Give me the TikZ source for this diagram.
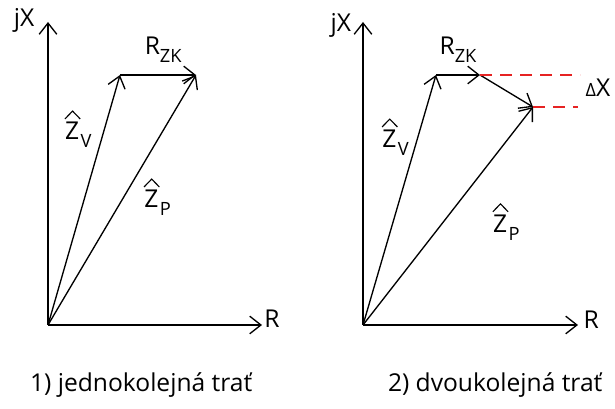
\documentclass[tikz,border=0pt]{standalone}
\usepackage{amsmath}
\usepackage{fontspec}
\setmainfont{Open Sans}
\usetikzlibrary{arrows.meta}
\definecolor{deltared}{RGB}{230, 35, 35}
\newcommand{\lsub}[1]{\raisebox{-0.32em}{\fontsize{13}{14}\selectfont #1}}
\newcommand{\zhat}[1]{\tikz[baseline=0pt, x=1em, y=1em]{%
    \node[inner sep=0pt, anchor=base west] at (0,0) {Z};
    \draw[line width=0.8pt, line join=miter] (0.0,0.84) -- (0.31,1.16) -- (0.62,0.84);}\lsub{#1}}

\begin{document}
\begin{tikzpicture}[scale=1.0, >={Straight Barb[length=2.8mm, width=4.4mm]}, line width=0.95pt,
    lbl/.style={font=\fontsize{17.5}{19}\selectfont, inner sep=0pt},
    deltaline/.style={deltared, line width=0.95pt, dash pattern=on 3mm off 2mm}]

  \useasboundingbox (0,0) rectangle (15.375,10.225);

  % Left: single track
  \coordinate (o1) at (1.2,2.1);
  \coordinate (y1) at (1.2,9.675);
  \coordinate (x1) at (6.55,2.1);
  \coordinate (v1) at (3.0,8.35);
  \coordinate (p1) at (4.9,8.35);

  \draw[->] (o1) -- (y1);
  \draw[->] (o1) -- (x1);
  \draw[->] (o1) -- (v1);
  \draw[->] (v1) -- (p1);
  \draw[->] (o1) -- (p1);

  \node[lbl] (jx1) at (0.6,9.72) {jX};
  \node[lbl] (r1) at (6.8,2.25) {R};
  \node[lbl] (rzk1) at (4.08,8.98) {R\lsub{ZK}};
  \node[lbl] (zv1) at (1.95,7.0) {\zhat{V}};
  \node[lbl] (zp1) at (3.93,5.3) {\zhat{P}};

  % Right: double track
  \coordinate (o2) at (9.075,2.1);
  \coordinate (y2) at (9.075,9.675);
  \coordinate (x2) at (14.45,2.1);
  \coordinate (v2) at (10.9,8.35);
  \coordinate (k2) at (12.0,8.35);
  \coordinate (p2) at (13.325,7.55);

  \draw[->] (o2) -- (y2);
  \draw[->] (o2) -- (x2);
  \draw[->] (o2) -- (v2);
  \draw[->] (v2) -- (k2);
  \draw[->] (k2) -- (p2);
  \draw[->] (o2) -- (p2);

  % reactance difference
  \coordinate (dk) at (14.5,8.35);
  \coordinate (dp) at (14.45,7.55);
  \draw[deltaline] (k2) -- (dk);
  \draw[deltaline] (p2) -- (dp);

  \node[lbl] (jx2) at (8.52,9.6) {jX};
  \node[lbl] (r2) at (14.78,2.22) {R};
  \node[lbl] (rzk2) at (11.45,8.98) {R\lsub{ZK}};
  \node[lbl] (zv2) at (9.88,6.8) {\zhat{V}};
  \node[lbl] (zp2) at (12.65,4.68) {\zhat{P}};
  \node[lbl] (dx) at (14.95,8.02) {{\fontsize{13}{14}\selectfont Δ}X};

  % captions
  \node[lbl] (cap1) at (3.53,0.6) {1) jednokolejná trať};
  \node[lbl] (cap2) at (12.38,0.6) {2) dvoukolejná trať};

\end{tikzpicture}
\end{document}
